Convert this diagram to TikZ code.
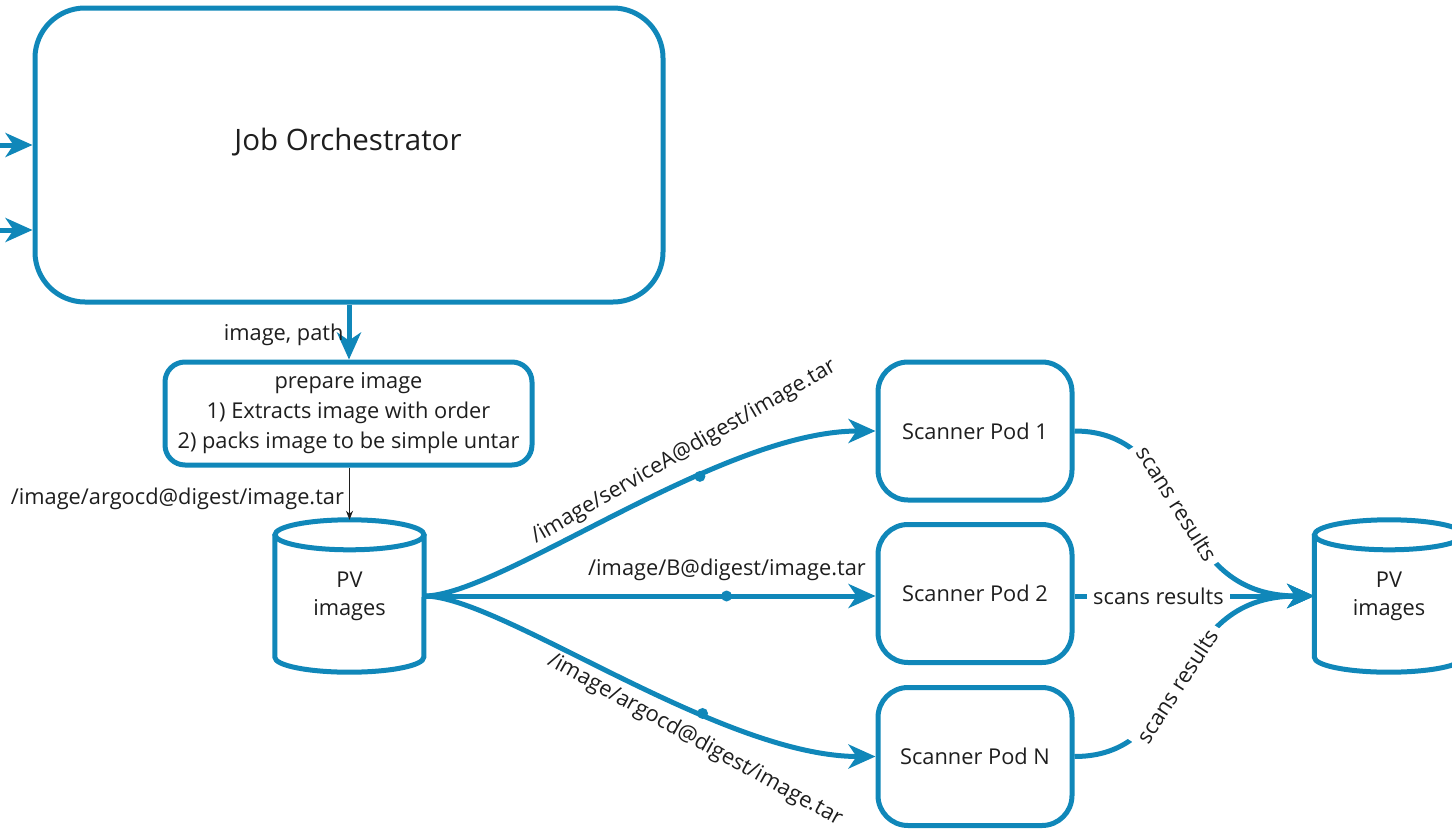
\documentclass[tikz,border=0pt]{standalone}
\usepackage{fontspec}
\setmainfont{Open Sans}
\usetikzlibrary{arrows.meta,calc}
\definecolor{flowblue}{RGB}{16,135,185}
\definecolor{ink}{RGB}{30,30,30}

% cylinder outline drawn around a store node
\newcommand\pvcyl[1]{%
  \draw[cylline,fill=white] ($(#1.north west)+(0,15)$) -- ($(#1.south west)+(0,-15)$)
    arc[start angle=180,end angle=360,x radius=74.5pt,y radius=15pt]
    -- ($(#1.north east)+(0,15)$);
  \draw[cylline] ($(#1.north)+(0,15)$) ellipse[x radius=74.5pt,y radius=15pt];}

\begin{document}
\begin{tikzpicture}[x=1pt,y=-1pt,
  every node/.style={text=ink,font=\fontsize{21.8}{28}\selectfont},
  box/.style={draw=flowblue,line width=5pt,align=center,inner sep=0pt},
  jobbox/.style={box,rounded corners=50pt,minimum width=628pt,minimum height=294pt},
  prepbox/.style={box,rounded corners=20pt,minimum width=367pt,minimum height=103pt,
    font=\fontsize{21.8}{30}\selectfont},
  podbox/.style={box,rounded corners=30pt,minimum width=194pt,minimum height=138pt},
  store/.style={align=center,minimum width=149pt,minimum height=152pt,inner sep=0pt},
  cylline/.style={draw=flowblue,line width=5pt},
  flow/.style={draw=flowblue,line width=5pt,-{Stealth[length=27pt,width=24pt,inset=8pt]}},
  probe/.style={draw=ink,line width=1pt,-{Stealth[length=9pt,width=7pt]}},
  dot/.style={circle,fill=flowblue,minimum size=11pt,inner sep=0pt},
  tag/.style={fill=white,inner sep=6pt}
]
\useasboundingbox (0,0) rectangle (1452,830);

% orchestrator
\node[jobbox] (job) at (349,155) {};
\node (jobtitle) at (348,142) {\fontsize{29.5}{34}\selectfont Job Orchestrator};
\coordinate (in1) at (-3,145);
\coordinate (in2) at (-3,230);
\draw[flow] (in1) -- (in1 -| job.west);
\draw[flow] (in2) -- (in2 -| job.west);

% preparation step
\node[prepbox] (prep) at (348.5,413.5)
  {prepare image\\1) Extracts image with order\\2) packs image to be simple untar};
\draw[flow] (job.south) -- (job.south |- prep.north)
  node[pos=0.55,left,inner sep=3pt] {image, path};

% source volume
\node[store] (pv) at (349.5,596) {};
\pvcyl{pv}
\node[align=center] (pvtext) at (pv) {PV\\images};
\draw[probe] (prep.south -| pv.north) -- (pv.north)
  node[pos=0.6,left,inner sep=5pt] {/image/argocd@digest/image.tar};

% scanner pods
\node[podbox] (pod1) at (975,431) {Scanner Pod 1};
\node[podbox] (pod2) at (975,593.5) {Scanner Pod 2};
\node[podbox] (podn) at (975,756.5) {Scanner Pod N};

% fan-out of image tarballs
\draw[flow] (pv.east) .. controls +(76,0) and +(-156,0) .. (pod1.west)
  node[dot,pos=0.655] {};
\draw[flow] (pv.east) -- (pv.east -| pod2.west)
  node[dot,pos=0.67] {};
\draw[flow] (pv.east) .. controls +(76,0) and +(-156,0) .. (podn.west)
  node[dot,pos=0.66] {};
\node[rotate=30] (lblA) at (684,452) {/image/serviceA@digest/image.tar};
\node (lblB) at (727,570) {/image/B@digest/image.tar};
\node[rotate=-29] (lblN) at (695,740) {/image/argocd@digest/image.tar};

% result volume
\begin{scope}
\clip (0,0) rectangle (1452,830);
\node[store] (pvout) at (1389,596) {};
\pvcyl{pvout}
\node[align=center] (pvouttext) at (pvout) {PV\\images};
\end{scope}

% results flowing back
\draw[flow] (pod1.east) .. controls +(120,0) and +(-150,0) .. (pvout.west)
  node[tag,sloped,pos=0.46] {scans results};
\draw[flow] (pod2.east |- pvout.west) -- (pvout.west)
  node[tag,pos=0.35] {scans results};
\draw[flow] (podn.east) .. controls +(120,0) and +(-150,0) .. (pvout.west)
  node[tag,sloped,pos=0.46] {scans results};
\end{tikzpicture}
\end{document}
